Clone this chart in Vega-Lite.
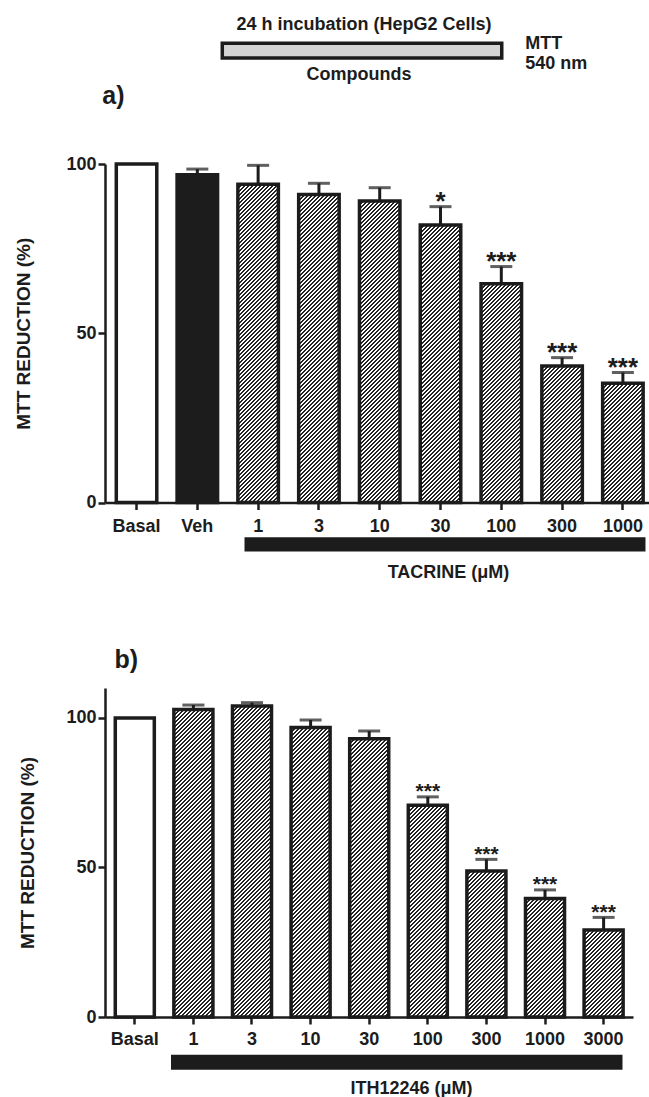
{
"$schema":"https://vega.github.io/schema/vega-lite/v6.json",
"background":"white",
"padding":{"left":14,"top":16,"right":0,"bottom":0},
"spacing":65,
"config":{
 "view":{"stroke":null},
 "axis":{"labelFont":"Liberation Sans","labelFontWeight":"bold","labelFontSize":18,"labelColor":"#1c1c1c","titleFont":"Liberation Sans","titleFontWeight":"bold","titleFontSize":19,"titleColor":"#1c1c1c","domainColor":"#1c1c1c","domainWidth":2.5,"tickColor":"#1c1c1c","tickWidth":2.5,"tickSize":7,"grid":false,"labelOverlap":false}
},
"datasets":{
 "tacrine":[
  {"cat":"Basal","kind":"basal","mean":100,"hi":null,"sig":""},
  {"cat":"Veh","kind":"vehicle","mean":96.8,"hi":98.5,"sig":""},
  {"cat":"1","kind":"drug","mean":94.0,"hi":99.6,"sig":""},
  {"cat":"3","kind":"drug","mean":91.0,"hi":94.3,"sig":""},
  {"cat":"10","kind":"drug","mean":89.1,"hi":93.0,"sig":""},
  {"cat":"30","kind":"drug","mean":82.0,"hi":87.4,"sig":"*"},
  {"cat":"100","kind":"drug","mean":64.6,"hi":69.7,"sig":"***"},
  {"cat":"300","kind":"drug","mean":40.3,"hi":42.8,"sig":"***"},
  {"cat":"1000","kind":"drug","mean":35.2,"hi":38.4,"sig":"***"}
 ],
 "ith":[
  {"cat":"Basal","kind":"basal","mean":100,"hi":null,"sig":""},
  {"cat":"1","kind":"drug","mean":102.8,"hi":104.3,"sig":""},
  {"cat":"3","kind":"drug","mean":104.0,"hi":105.1,"sig":""},
  {"cat":"10","kind":"drug","mean":96.8,"hi":99.3,"sig":""},
  {"cat":"30","kind":"drug","mean":93.0,"hi":95.6,"sig":""},
  {"cat":"100","kind":"drug","mean":70.8,"hi":73.6,"sig":"***"},
  {"cat":"300","kind":"drug","mean":48.8,"hi":52.7,"sig":"***"},
  {"cat":"1000","kind":"drug","mean":39.6,"hi":42.5,"sig":"***"},
  {"cat":"3000","kind":"drug","mean":29.1,"hi":33.3,"sig":"***"}
 ],
 "notesA":[
  {"role":"incubation","u":1.942,"u2":6.570,"v":135.67,"v2":131.30},
  {"role":"heading","text":"24 h incubation (HepG2 Cells)","u":4.289,"v":139.44},
  {"role":"heading","text":"Compounds","u":4.206,"v":124.67},
  {"role":"readout","text":"MTT","u":6.96,"v":134.03},
  {"role":"readout","text":"540 nm","u":6.96,"v":127.92},
  {"role":"panel","text":"a)","u":-0.046,"v":117.87},
  {"role":"treatment","u":2.310,"u2":8.950,"v":-10.25,"v2":-14.48},
  {"role":"heading","text":"TACRINE (μM)","u":5.688,"v":-22.16}
 ],
 "notesB":[
  {"role":"panel","text":"b)","u":0.16,"v":116.85},
  {"role":"treatment","u":1.125,"u2":8.821,"v":-12.64,"v2":-17.65},
  {"role":"heading","text":"ITH12246 (μM)","u":5.224,"v":-25.91}
 ]
},
"vconcat":[
 {
  "width":543.5,"height":338.5,
  "resolve":{"scale":{"x":"independent"},"axis":{"x":"independent"}},
  "layer":[
   {"data":{"name":"tacrine"},"transform":[{"filter":"datum.kind == 'drug'"}],
    "mark":{"type":"rect","fill":{"gradient":"linear","x1":0,"y1":0,"x2":0.13935,"y2":1.16502,"stops":[
{"offset":0,"color":"#222"},{"offset":0.005,"color":"#222"},{"offset":0.005,"color":"#fff"},{"offset":0.01,"color":"#fff"},
{"offset":0.01,"color":"#222"},{"offset":0.015,"color":"#222"},{"offset":0.015,"color":"#fff"},{"offset":0.02,"color":"#fff"},
{"offset":0.02,"color":"#222"},{"offset":0.025,"color":"#222"},{"offset":0.025,"color":"#fff"},{"offset":0.03,"color":"#fff"},
{"offset":0.03,"color":"#222"},{"offset":0.035,"color":"#222"},{"offset":0.035,"color":"#fff"},{"offset":0.04,"color":"#fff"},
{"offset":0.04,"color":"#222"},{"offset":0.045,"color":"#222"},{"offset":0.045,"color":"#fff"},{"offset":0.05,"color":"#fff"},
{"offset":0.05,"color":"#222"},{"offset":0.055,"color":"#222"},{"offset":0.055,"color":"#fff"},{"offset":0.06,"color":"#fff"},
{"offset":0.06,"color":"#222"},{"offset":0.065,"color":"#222"},{"offset":0.065,"color":"#fff"},{"offset":0.07,"color":"#fff"},
{"offset":0.07,"color":"#222"},{"offset":0.075,"color":"#222"},{"offset":0.075,"color":"#fff"},{"offset":0.08,"color":"#fff"},
{"offset":0.08,"color":"#222"},{"offset":0.085,"color":"#222"},{"offset":0.085,"color":"#fff"},{"offset":0.09,"color":"#fff"},
{"offset":0.09,"color":"#222"},{"offset":0.095,"color":"#222"},{"offset":0.095,"color":"#fff"},{"offset":0.1,"color":"#fff"},
{"offset":0.1,"color":"#222"},{"offset":0.105,"color":"#222"},{"offset":0.105,"color":"#fff"},{"offset":0.11,"color":"#fff"},
{"offset":0.11,"color":"#222"},{"offset":0.115,"color":"#222"},{"offset":0.115,"color":"#fff"},{"offset":0.12,"color":"#fff"},
{"offset":0.12,"color":"#222"},{"offset":0.125,"color":"#222"},{"offset":0.125,"color":"#fff"},{"offset":0.13,"color":"#fff"},
{"offset":0.13,"color":"#222"},{"offset":0.135,"color":"#222"},{"offset":0.135,"color":"#fff"},{"offset":0.14,"color":"#fff"},
{"offset":0.14,"color":"#222"},{"offset":0.145,"color":"#222"},{"offset":0.145,"color":"#fff"},{"offset":0.15,"color":"#fff"},
{"offset":0.15,"color":"#222"},{"offset":0.155,"color":"#222"},{"offset":0.155,"color":"#fff"},{"offset":0.16,"color":"#fff"},
{"offset":0.16,"color":"#222"},{"offset":0.165,"color":"#222"},{"offset":0.165,"color":"#fff"},{"offset":0.17,"color":"#fff"},
{"offset":0.17,"color":"#222"},{"offset":0.175,"color":"#222"},{"offset":0.175,"color":"#fff"},{"offset":0.18,"color":"#fff"},
{"offset":0.18,"color":"#222"},{"offset":0.185,"color":"#222"},{"offset":0.185,"color":"#fff"},{"offset":0.19,"color":"#fff"},
{"offset":0.19,"color":"#222"},{"offset":0.195,"color":"#222"},{"offset":0.195,"color":"#fff"},{"offset":0.2,"color":"#fff"},
{"offset":0.2,"color":"#222"},{"offset":0.205,"color":"#222"},{"offset":0.205,"color":"#fff"},{"offset":0.21,"color":"#fff"},
{"offset":0.21,"color":"#222"},{"offset":0.215,"color":"#222"},{"offset":0.215,"color":"#fff"},{"offset":0.22,"color":"#fff"},
{"offset":0.22,"color":"#222"},{"offset":0.225,"color":"#222"},{"offset":0.225,"color":"#fff"},{"offset":0.23,"color":"#fff"},
{"offset":0.23,"color":"#222"},{"offset":0.235,"color":"#222"},{"offset":0.235,"color":"#fff"},{"offset":0.24,"color":"#fff"},
{"offset":0.24,"color":"#222"},{"offset":0.245,"color":"#222"},{"offset":0.245,"color":"#fff"},{"offset":0.25,"color":"#fff"},
{"offset":0.25,"color":"#222"},{"offset":0.255,"color":"#222"},{"offset":0.255,"color":"#fff"},{"offset":0.26,"color":"#fff"},
{"offset":0.26,"color":"#222"},{"offset":0.265,"color":"#222"},{"offset":0.265,"color":"#fff"},{"offset":0.27,"color":"#fff"},
{"offset":0.27,"color":"#222"},{"offset":0.275,"color":"#222"},{"offset":0.275,"color":"#fff"},{"offset":0.28,"color":"#fff"},
{"offset":0.28,"color":"#222"},{"offset":0.285,"color":"#222"},{"offset":0.285,"color":"#fff"},{"offset":0.29,"color":"#fff"},
{"offset":0.29,"color":"#222"},{"offset":0.295,"color":"#222"},{"offset":0.295,"color":"#fff"},{"offset":0.3,"color":"#fff"},
{"offset":0.3,"color":"#222"},{"offset":0.305,"color":"#222"},{"offset":0.305,"color":"#fff"},{"offset":0.31,"color":"#fff"},
{"offset":0.31,"color":"#222"},{"offset":0.315,"color":"#222"},{"offset":0.315,"color":"#fff"},{"offset":0.32,"color":"#fff"},
{"offset":0.32,"color":"#222"},{"offset":0.325,"color":"#222"},{"offset":0.325,"color":"#fff"},{"offset":0.33,"color":"#fff"},
{"offset":0.33,"color":"#222"},{"offset":0.335,"color":"#222"},{"offset":0.335,"color":"#fff"},{"offset":0.34,"color":"#fff"},
{"offset":0.34,"color":"#222"},{"offset":0.345,"color":"#222"},{"offset":0.345,"color":"#fff"},{"offset":0.35,"color":"#fff"},
{"offset":0.35,"color":"#222"},{"offset":0.355,"color":"#222"},{"offset":0.355,"color":"#fff"},{"offset":0.36,"color":"#fff"},
{"offset":0.36,"color":"#222"},{"offset":0.365,"color":"#222"},{"offset":0.365,"color":"#fff"},{"offset":0.37,"color":"#fff"},
{"offset":0.37,"color":"#222"},{"offset":0.375,"color":"#222"},{"offset":0.375,"color":"#fff"},{"offset":0.38,"color":"#fff"},
{"offset":0.38,"color":"#222"},{"offset":0.385,"color":"#222"},{"offset":0.385,"color":"#fff"},{"offset":0.39,"color":"#fff"},
{"offset":0.39,"color":"#222"},{"offset":0.395,"color":"#222"},{"offset":0.395,"color":"#fff"},{"offset":0.4,"color":"#fff"},
{"offset":0.4,"color":"#222"},{"offset":0.405,"color":"#222"},{"offset":0.405,"color":"#fff"},{"offset":0.41,"color":"#fff"},
{"offset":0.41,"color":"#222"},{"offset":0.415,"color":"#222"},{"offset":0.415,"color":"#fff"},{"offset":0.42,"color":"#fff"},
{"offset":0.42,"color":"#222"},{"offset":0.425,"color":"#222"},{"offset":0.425,"color":"#fff"},{"offset":0.43,"color":"#fff"},
{"offset":0.43,"color":"#222"},{"offset":0.435,"color":"#222"},{"offset":0.435,"color":"#fff"},{"offset":0.44,"color":"#fff"},
{"offset":0.44,"color":"#222"},{"offset":0.445,"color":"#222"},{"offset":0.445,"color":"#fff"},{"offset":0.45,"color":"#fff"},
{"offset":0.45,"color":"#222"},{"offset":0.455,"color":"#222"},{"offset":0.455,"color":"#fff"},{"offset":0.46,"color":"#fff"},
{"offset":0.46,"color":"#222"},{"offset":0.465,"color":"#222"},{"offset":0.465,"color":"#fff"},{"offset":0.47,"color":"#fff"},
{"offset":0.47,"color":"#222"},{"offset":0.475,"color":"#222"},{"offset":0.475,"color":"#fff"},{"offset":0.48,"color":"#fff"},
{"offset":0.48,"color":"#222"},{"offset":0.485,"color":"#222"},{"offset":0.485,"color":"#fff"},{"offset":0.49,"color":"#fff"},
{"offset":0.49,"color":"#222"},{"offset":0.495,"color":"#222"},{"offset":0.495,"color":"#fff"},{"offset":0.5,"color":"#fff"},
{"offset":0.5,"color":"#222"},{"offset":0.505,"color":"#222"},{"offset":0.505,"color":"#fff"},{"offset":0.51,"color":"#fff"},
{"offset":0.51,"color":"#222"},{"offset":0.515,"color":"#222"},{"offset":0.515,"color":"#fff"},{"offset":0.52,"color":"#fff"},
{"offset":0.52,"color":"#222"},{"offset":0.525,"color":"#222"},{"offset":0.525,"color":"#fff"},{"offset":0.53,"color":"#fff"},
{"offset":0.53,"color":"#222"},{"offset":0.535,"color":"#222"},{"offset":0.535,"color":"#fff"},{"offset":0.54,"color":"#fff"},
{"offset":0.54,"color":"#222"},{"offset":0.545,"color":"#222"},{"offset":0.545,"color":"#fff"},{"offset":0.55,"color":"#fff"},
{"offset":0.55,"color":"#222"},{"offset":0.555,"color":"#222"},{"offset":0.555,"color":"#fff"},{"offset":0.56,"color":"#fff"},
{"offset":0.56,"color":"#222"},{"offset":0.565,"color":"#222"},{"offset":0.565,"color":"#fff"},{"offset":0.57,"color":"#fff"},
{"offset":0.57,"color":"#222"},{"offset":0.575,"color":"#222"},{"offset":0.575,"color":"#fff"},{"offset":0.58,"color":"#fff"},
{"offset":0.58,"color":"#222"},{"offset":0.585,"color":"#222"},{"offset":0.585,"color":"#fff"},{"offset":0.59,"color":"#fff"},
{"offset":0.59,"color":"#222"},{"offset":0.595,"color":"#222"},{"offset":0.595,"color":"#fff"},{"offset":0.6,"color":"#fff"},
{"offset":0.6,"color":"#222"},{"offset":0.605,"color":"#222"},{"offset":0.605,"color":"#fff"},{"offset":0.61,"color":"#fff"},
{"offset":0.61,"color":"#222"},{"offset":0.615,"color":"#222"},{"offset":0.615,"color":"#fff"},{"offset":0.62,"color":"#fff"},
{"offset":0.62,"color":"#222"},{"offset":0.625,"color":"#222"},{"offset":0.625,"color":"#fff"},{"offset":0.63,"color":"#fff"},
{"offset":0.63,"color":"#222"},{"offset":0.635,"color":"#222"},{"offset":0.635,"color":"#fff"},{"offset":0.64,"color":"#fff"},
{"offset":0.64,"color":"#222"},{"offset":0.645,"color":"#222"},{"offset":0.645,"color":"#fff"},{"offset":0.65,"color":"#fff"},
{"offset":0.65,"color":"#222"},{"offset":0.655,"color":"#222"},{"offset":0.655,"color":"#fff"},{"offset":0.66,"color":"#fff"},
{"offset":0.66,"color":"#222"},{"offset":0.665,"color":"#222"},{"offset":0.665,"color":"#fff"},{"offset":0.67,"color":"#fff"},
{"offset":0.67,"color":"#222"},{"offset":0.675,"color":"#222"},{"offset":0.675,"color":"#fff"},{"offset":0.68,"color":"#fff"},
{"offset":0.68,"color":"#222"},{"offset":0.685,"color":"#222"},{"offset":0.685,"color":"#fff"},{"offset":0.69,"color":"#fff"},
{"offset":0.69,"color":"#222"},{"offset":0.695,"color":"#222"},{"offset":0.695,"color":"#fff"},{"offset":0.7,"color":"#fff"},
{"offset":0.7,"color":"#222"},{"offset":0.705,"color":"#222"},{"offset":0.705,"color":"#fff"},{"offset":0.71,"color":"#fff"},
{"offset":0.71,"color":"#222"},{"offset":0.715,"color":"#222"},{"offset":0.715,"color":"#fff"},{"offset":0.72,"color":"#fff"},
{"offset":0.72,"color":"#222"},{"offset":0.725,"color":"#222"},{"offset":0.725,"color":"#fff"},{"offset":0.73,"color":"#fff"},
{"offset":0.73,"color":"#222"},{"offset":0.735,"color":"#222"},{"offset":0.735,"color":"#fff"},{"offset":0.74,"color":"#fff"},
{"offset":0.74,"color":"#222"},{"offset":0.745,"color":"#222"},{"offset":0.745,"color":"#fff"},{"offset":0.75,"color":"#fff"},
{"offset":0.75,"color":"#222"},{"offset":0.755,"color":"#222"},{"offset":0.755,"color":"#fff"},{"offset":0.76,"color":"#fff"},
{"offset":0.76,"color":"#222"},{"offset":0.765,"color":"#222"},{"offset":0.765,"color":"#fff"},{"offset":0.77,"color":"#fff"},
{"offset":0.77,"color":"#222"},{"offset":0.775,"color":"#222"},{"offset":0.775,"color":"#fff"},{"offset":0.78,"color":"#fff"},
{"offset":0.78,"color":"#222"},{"offset":0.785,"color":"#222"},{"offset":0.785,"color":"#fff"},{"offset":0.79,"color":"#fff"},
{"offset":0.79,"color":"#222"},{"offset":0.795,"color":"#222"},{"offset":0.795,"color":"#fff"},{"offset":0.8,"color":"#fff"},
{"offset":0.8,"color":"#222"},{"offset":0.805,"color":"#222"},{"offset":0.805,"color":"#fff"},{"offset":0.81,"color":"#fff"},
{"offset":0.81,"color":"#222"},{"offset":0.815,"color":"#222"},{"offset":0.815,"color":"#fff"},{"offset":0.82,"color":"#fff"},
{"offset":0.82,"color":"#222"},{"offset":0.825,"color":"#222"},{"offset":0.825,"color":"#fff"},{"offset":0.83,"color":"#fff"},
{"offset":0.83,"color":"#222"},{"offset":0.835,"color":"#222"},{"offset":0.835,"color":"#fff"},{"offset":0.84,"color":"#fff"},
{"offset":0.84,"color":"#222"},{"offset":0.845,"color":"#222"},{"offset":0.845,"color":"#fff"},{"offset":0.85,"color":"#fff"},
{"offset":0.85,"color":"#222"},{"offset":0.855,"color":"#222"},{"offset":0.855,"color":"#fff"},{"offset":0.86,"color":"#fff"},
{"offset":0.86,"color":"#222"},{"offset":0.865,"color":"#222"},{"offset":0.865,"color":"#fff"},{"offset":0.87,"color":"#fff"},
{"offset":0.87,"color":"#222"},{"offset":0.875,"color":"#222"},{"offset":0.875,"color":"#fff"},{"offset":0.88,"color":"#fff"},
{"offset":0.88,"color":"#222"},{"offset":0.885,"color":"#222"},{"offset":0.885,"color":"#fff"},{"offset":0.89,"color":"#fff"},
{"offset":0.89,"color":"#222"},{"offset":0.895,"color":"#222"},{"offset":0.895,"color":"#fff"},{"offset":0.9,"color":"#fff"},
{"offset":0.9,"color":"#222"},{"offset":0.905,"color":"#222"},{"offset":0.905,"color":"#fff"},{"offset":0.91,"color":"#fff"},
{"offset":0.91,"color":"#222"},{"offset":0.915,"color":"#222"},{"offset":0.915,"color":"#fff"},{"offset":0.92,"color":"#fff"},
{"offset":0.92,"color":"#222"},{"offset":0.925,"color":"#222"},{"offset":0.925,"color":"#fff"},{"offset":0.93,"color":"#fff"},
{"offset":0.93,"color":"#222"},{"offset":0.935,"color":"#222"},{"offset":0.935,"color":"#fff"},{"offset":0.94,"color":"#fff"},
{"offset":0.94,"color":"#222"},{"offset":0.945,"color":"#222"},{"offset":0.945,"color":"#fff"},{"offset":0.95,"color":"#fff"},
{"offset":0.95,"color":"#222"},{"offset":0.955,"color":"#222"},{"offset":0.955,"color":"#fff"},{"offset":0.96,"color":"#fff"},
{"offset":0.96,"color":"#222"},{"offset":0.965,"color":"#222"},{"offset":0.965,"color":"#fff"},{"offset":0.97,"color":"#fff"},
{"offset":0.97,"color":"#222"},{"offset":0.975,"color":"#222"},{"offset":0.975,"color":"#fff"},{"offset":0.98,"color":"#fff"},
{"offset":0.98,"color":"#222"},{"offset":0.985,"color":"#222"},{"offset":0.985,"color":"#fff"},{"offset":0.99,"color":"#fff"},
{"offset":0.99,"color":"#222"},{"offset":0.995,"color":"#222"},{"offset":0.995,"color":"#fff"},{"offset":1,"color":"#fff"}
]}},
    "encoding":{
     "x":{"field":"cat","type":"nominal","scale":{"type":"band","domain":["Basal","Veh","1","3","10","30","100","300","1000"],"paddingInner":0.334,"paddingOuter":0.137,"align":0.678},"axis":null},
     "y":{"datum":0,"type":"quantitative","scale":{"domain":[0,100],"nice":false}},
     "y2":{"datum":100}}},
   {"data":{"name":"tacrine"},"transform":[{"filter":"datum.kind == 'drug'"}],
    "mark":{"type":"rect","fill":"#ffffff","stroke":"#ffffff","strokeWidth":2},
    "encoding":{
     "x":{"field":"cat","type":"nominal","scale":{"type":"band","domain":["Basal","Veh","1","3","10","30","100","300","1000"],"paddingInner":0.334,"paddingOuter":0.137,"align":0.678},"axis":null},
     "y":{"field":"mean","type":"quantitative","scale":{"domain":[0,100],"nice":false}},
     "y2":{"datum":100}}},
   {"data":{"name":"tacrine"},
    "mark":{"type":"bar","stroke":"#1c1c1c","strokeWidth":3.5},
    "encoding":{
     "x":{"field":"cat","type":"nominal","scale":{"type":"band","domain":["Basal","Veh","1","3","10","30","100","300","1000"],"paddingInner":0.334,"paddingOuter":0.137,"align":0.678},"axis":{"title":null,"labelAngle":0,"labelPadding":8}},
     "y":{"field":"mean","type":"quantitative","stack":null,"scale":{"domain":[0,100],"nice":false},"axis":{"values":[0,50,100],"title":"MTT REDUCTION (%)","titlePadding":31.5,"minExtent":40,"maxExtent":40,"labelPadding":2}},
     "fill":{"field":"kind","type":"nominal","scale":{"domain":["basal","vehicle","drug"],"range":["#ffffff","#1c1c1c","transparent"]},"legend":null}}},
   {"data":{"name":"tacrine"},"transform":[{"filter":"datum.hi != null"}],
    "mark":{"type":"rule","color":"#1c1c1c","strokeWidth":3},
    "encoding":{
     "x":{"field":"cat","type":"nominal","scale":{"type":"band","domain":["Basal","Veh","1","3","10","30","100","300","1000"],"paddingInner":0.334,"paddingOuter":0.137,"align":0.678},"axis":null},
     "y":{"field":"mean","type":"quantitative","scale":{"domain":[0,100],"nice":false}},
     "y2":{"field":"hi"}}},
   {"data":{"name":"tacrine"},"transform":[{"filter":"datum.hi != null"}],
    "mark":{"type":"tick","color":"#1c1c1c","size":22,"thickness":3},
    "encoding":{
     "x":{"field":"cat","type":"nominal","scale":{"type":"band","domain":["Basal","Veh","1","3","10","30","100","300","1000"],"paddingInner":0.334,"paddingOuter":0.137,"align":0.678},"axis":null},
     "y":{"field":"hi","type":"quantitative","scale":{"domain":[0,100],"nice":false}}}},
   {"data":{"name":"tacrine"},"transform":[{"filter":"datum.sig != ''"}],
    "mark":{"type":"text","font":"Liberation Sans","fontWeight":"bold","fontSize":26,"color":"#1c1c1c","dy":3,"baseline":"alphabetic","align":"center"},
    "encoding":{
     "x":{"field":"cat","type":"nominal","scale":{"type":"band","domain":["Basal","Veh","1","3","10","30","100","300","1000"],"paddingInner":0.334,"paddingOuter":0.137,"align":0.678},"axis":null},
     "y":{"field":"hi","type":"quantitative","scale":{"domain":[0,100],"nice":false}},
     "text":{"field":"sig"}}},
   {"data":{"name":"notesA"},"transform":[{"filter":"datum.role == 'incubation'"}],
    "mark":{"type":"rect","fill":"#d4d4d4","stroke":"#1c1c1c","strokeWidth":3.5},
    "encoding":{
     "x":{"field":"u","type":"quantitative","scale":{"domain":[0,9],"nice":false,"zero":false},"axis":null},
     "x2":{"field":"u2"},
     "y":{"field":"v","type":"quantitative","scale":{"domain":[0,100],"nice":false}},
     "y2":{"field":"v2"}}},
   {"data":{"name":"notesA"},"transform":[{"filter":"datum.role == 'treatment'"}],
    "mark":{"type":"rect","fill":"#1c1c1c"},
    "encoding":{
     "x":{"field":"u","type":"quantitative","scale":{"domain":[0,9],"nice":false,"zero":false},"axis":null},
     "x2":{"field":"u2"},
     "y":{"field":"v","type":"quantitative","scale":{"domain":[0,100],"nice":false}},
     "y2":{"field":"v2"}}},
   {"data":{"name":"notesA"},"transform":[{"filter":"datum.role == 'heading'"}],
    "mark":{"type":"text","font":"Liberation Sans","fontWeight":"bold","fontSize":18,"color":"#1c1c1c","baseline":"alphabetic","align":"center"},
    "encoding":{
     "x":{"field":"u","type":"quantitative","scale":{"domain":[0,9],"nice":false,"zero":false},"axis":null},
     "y":{"field":"v","type":"quantitative","scale":{"domain":[0,100],"nice":false}},
     "text":{"field":"text"}}},
   {"data":{"name":"notesA"},"transform":[{"filter":"datum.role == 'readout'"}],
    "mark":{"type":"text","font":"Liberation Sans","fontWeight":"bold","fontSize":18,"color":"#1c1c1c","baseline":"alphabetic","align":"left"},
    "encoding":{
     "x":{"field":"u","type":"quantitative","scale":{"domain":[0,9],"nice":false,"zero":false},"axis":null},
     "y":{"field":"v","type":"quantitative","scale":{"domain":[0,100],"nice":false}},
     "text":{"field":"text"}}},
   {"data":{"name":"notesA"},"transform":[{"filter":"datum.role == 'panel'"}],
    "mark":{"type":"text","font":"Liberation Sans","fontWeight":"bold","fontSize":25,"color":"#1c1c1c","baseline":"alphabetic","align":"left"},
    "encoding":{
     "x":{"field":"u","type":"quantitative","scale":{"domain":[0,9],"nice":false,"zero":false},"axis":null},
     "y":{"field":"v","type":"quantitative","scale":{"domain":[0,100],"nice":false}},
     "text":{"field":"text"}}}
  ]
 },
 {
  "width":528,"height":329,
  "resolve":{"scale":{"x":"independent"},"axis":{"x":"independent"}},
  "layer":[
   {"data":{"name":"ith"},"transform":[{"filter":"datum.kind == 'drug'"}],
    "mark":{"type":"rect","fill":{"gradient":"linear","x1":0,"y1":0,"x2":0.14481,"y2":1.20962,"stops":[
{"offset":0,"color":"#222"},{"offset":0.005,"color":"#222"},{"offset":0.005,"color":"#fff"},{"offset":0.01,"color":"#fff"},
{"offset":0.01,"color":"#222"},{"offset":0.015,"color":"#222"},{"offset":0.015,"color":"#fff"},{"offset":0.02,"color":"#fff"},
{"offset":0.02,"color":"#222"},{"offset":0.025,"color":"#222"},{"offset":0.025,"color":"#fff"},{"offset":0.03,"color":"#fff"},
{"offset":0.03,"color":"#222"},{"offset":0.035,"color":"#222"},{"offset":0.035,"color":"#fff"},{"offset":0.04,"color":"#fff"},
{"offset":0.04,"color":"#222"},{"offset":0.045,"color":"#222"},{"offset":0.045,"color":"#fff"},{"offset":0.05,"color":"#fff"},
{"offset":0.05,"color":"#222"},{"offset":0.055,"color":"#222"},{"offset":0.055,"color":"#fff"},{"offset":0.06,"color":"#fff"},
{"offset":0.06,"color":"#222"},{"offset":0.065,"color":"#222"},{"offset":0.065,"color":"#fff"},{"offset":0.07,"color":"#fff"},
{"offset":0.07,"color":"#222"},{"offset":0.075,"color":"#222"},{"offset":0.075,"color":"#fff"},{"offset":0.08,"color":"#fff"},
{"offset":0.08,"color":"#222"},{"offset":0.085,"color":"#222"},{"offset":0.085,"color":"#fff"},{"offset":0.09,"color":"#fff"},
{"offset":0.09,"color":"#222"},{"offset":0.095,"color":"#222"},{"offset":0.095,"color":"#fff"},{"offset":0.1,"color":"#fff"},
{"offset":0.1,"color":"#222"},{"offset":0.105,"color":"#222"},{"offset":0.105,"color":"#fff"},{"offset":0.11,"color":"#fff"},
{"offset":0.11,"color":"#222"},{"offset":0.115,"color":"#222"},{"offset":0.115,"color":"#fff"},{"offset":0.12,"color":"#fff"},
{"offset":0.12,"color":"#222"},{"offset":0.125,"color":"#222"},{"offset":0.125,"color":"#fff"},{"offset":0.13,"color":"#fff"},
{"offset":0.13,"color":"#222"},{"offset":0.135,"color":"#222"},{"offset":0.135,"color":"#fff"},{"offset":0.14,"color":"#fff"},
{"offset":0.14,"color":"#222"},{"offset":0.145,"color":"#222"},{"offset":0.145,"color":"#fff"},{"offset":0.15,"color":"#fff"},
{"offset":0.15,"color":"#222"},{"offset":0.155,"color":"#222"},{"offset":0.155,"color":"#fff"},{"offset":0.16,"color":"#fff"},
{"offset":0.16,"color":"#222"},{"offset":0.165,"color":"#222"},{"offset":0.165,"color":"#fff"},{"offset":0.17,"color":"#fff"},
{"offset":0.17,"color":"#222"},{"offset":0.175,"color":"#222"},{"offset":0.175,"color":"#fff"},{"offset":0.18,"color":"#fff"},
{"offset":0.18,"color":"#222"},{"offset":0.185,"color":"#222"},{"offset":0.185,"color":"#fff"},{"offset":0.19,"color":"#fff"},
{"offset":0.19,"color":"#222"},{"offset":0.195,"color":"#222"},{"offset":0.195,"color":"#fff"},{"offset":0.2,"color":"#fff"},
{"offset":0.2,"color":"#222"},{"offset":0.205,"color":"#222"},{"offset":0.205,"color":"#fff"},{"offset":0.21,"color":"#fff"},
{"offset":0.21,"color":"#222"},{"offset":0.215,"color":"#222"},{"offset":0.215,"color":"#fff"},{"offset":0.22,"color":"#fff"},
{"offset":0.22,"color":"#222"},{"offset":0.225,"color":"#222"},{"offset":0.225,"color":"#fff"},{"offset":0.23,"color":"#fff"},
{"offset":0.23,"color":"#222"},{"offset":0.235,"color":"#222"},{"offset":0.235,"color":"#fff"},{"offset":0.24,"color":"#fff"},
{"offset":0.24,"color":"#222"},{"offset":0.245,"color":"#222"},{"offset":0.245,"color":"#fff"},{"offset":0.25,"color":"#fff"},
{"offset":0.25,"color":"#222"},{"offset":0.255,"color":"#222"},{"offset":0.255,"color":"#fff"},{"offset":0.26,"color":"#fff"},
{"offset":0.26,"color":"#222"},{"offset":0.265,"color":"#222"},{"offset":0.265,"color":"#fff"},{"offset":0.27,"color":"#fff"},
{"offset":0.27,"color":"#222"},{"offset":0.275,"color":"#222"},{"offset":0.275,"color":"#fff"},{"offset":0.28,"color":"#fff"},
{"offset":0.28,"color":"#222"},{"offset":0.285,"color":"#222"},{"offset":0.285,"color":"#fff"},{"offset":0.29,"color":"#fff"},
{"offset":0.29,"color":"#222"},{"offset":0.295,"color":"#222"},{"offset":0.295,"color":"#fff"},{"offset":0.3,"color":"#fff"},
{"offset":0.3,"color":"#222"},{"offset":0.305,"color":"#222"},{"offset":0.305,"color":"#fff"},{"offset":0.31,"color":"#fff"},
{"offset":0.31,"color":"#222"},{"offset":0.315,"color":"#222"},{"offset":0.315,"color":"#fff"},{"offset":0.32,"color":"#fff"},
{"offset":0.32,"color":"#222"},{"offset":0.325,"color":"#222"},{"offset":0.325,"color":"#fff"},{"offset":0.33,"color":"#fff"},
{"offset":0.33,"color":"#222"},{"offset":0.335,"color":"#222"},{"offset":0.335,"color":"#fff"},{"offset":0.34,"color":"#fff"},
{"offset":0.34,"color":"#222"},{"offset":0.345,"color":"#222"},{"offset":0.345,"color":"#fff"},{"offset":0.35,"color":"#fff"},
{"offset":0.35,"color":"#222"},{"offset":0.355,"color":"#222"},{"offset":0.355,"color":"#fff"},{"offset":0.36,"color":"#fff"},
{"offset":0.36,"color":"#222"},{"offset":0.365,"color":"#222"},{"offset":0.365,"color":"#fff"},{"offset":0.37,"color":"#fff"},
{"offset":0.37,"color":"#222"},{"offset":0.375,"color":"#222"},{"offset":0.375,"color":"#fff"},{"offset":0.38,"color":"#fff"},
{"offset":0.38,"color":"#222"},{"offset":0.385,"color":"#222"},{"offset":0.385,"color":"#fff"},{"offset":0.39,"color":"#fff"},
{"offset":0.39,"color":"#222"},{"offset":0.395,"color":"#222"},{"offset":0.395,"color":"#fff"},{"offset":0.4,"color":"#fff"},
{"offset":0.4,"color":"#222"},{"offset":0.405,"color":"#222"},{"offset":0.405,"color":"#fff"},{"offset":0.41,"color":"#fff"},
{"offset":0.41,"color":"#222"},{"offset":0.415,"color":"#222"},{"offset":0.415,"color":"#fff"},{"offset":0.42,"color":"#fff"},
{"offset":0.42,"color":"#222"},{"offset":0.425,"color":"#222"},{"offset":0.425,"color":"#fff"},{"offset":0.43,"color":"#fff"},
{"offset":0.43,"color":"#222"},{"offset":0.435,"color":"#222"},{"offset":0.435,"color":"#fff"},{"offset":0.44,"color":"#fff"},
{"offset":0.44,"color":"#222"},{"offset":0.445,"color":"#222"},{"offset":0.445,"color":"#fff"},{"offset":0.45,"color":"#fff"},
{"offset":0.45,"color":"#222"},{"offset":0.455,"color":"#222"},{"offset":0.455,"color":"#fff"},{"offset":0.46,"color":"#fff"},
{"offset":0.46,"color":"#222"},{"offset":0.465,"color":"#222"},{"offset":0.465,"color":"#fff"},{"offset":0.47,"color":"#fff"},
{"offset":0.47,"color":"#222"},{"offset":0.475,"color":"#222"},{"offset":0.475,"color":"#fff"},{"offset":0.48,"color":"#fff"},
{"offset":0.48,"color":"#222"},{"offset":0.485,"color":"#222"},{"offset":0.485,"color":"#fff"},{"offset":0.49,"color":"#fff"},
{"offset":0.49,"color":"#222"},{"offset":0.495,"color":"#222"},{"offset":0.495,"color":"#fff"},{"offset":0.5,"color":"#fff"},
{"offset":0.5,"color":"#222"},{"offset":0.505,"color":"#222"},{"offset":0.505,"color":"#fff"},{"offset":0.51,"color":"#fff"},
{"offset":0.51,"color":"#222"},{"offset":0.515,"color":"#222"},{"offset":0.515,"color":"#fff"},{"offset":0.52,"color":"#fff"},
{"offset":0.52,"color":"#222"},{"offset":0.525,"color":"#222"},{"offset":0.525,"color":"#fff"},{"offset":0.53,"color":"#fff"},
{"offset":0.53,"color":"#222"},{"offset":0.535,"color":"#222"},{"offset":0.535,"color":"#fff"},{"offset":0.54,"color":"#fff"},
{"offset":0.54,"color":"#222"},{"offset":0.545,"color":"#222"},{"offset":0.545,"color":"#fff"},{"offset":0.55,"color":"#fff"},
{"offset":0.55,"color":"#222"},{"offset":0.555,"color":"#222"},{"offset":0.555,"color":"#fff"},{"offset":0.56,"color":"#fff"},
{"offset":0.56,"color":"#222"},{"offset":0.565,"color":"#222"},{"offset":0.565,"color":"#fff"},{"offset":0.57,"color":"#fff"},
{"offset":0.57,"color":"#222"},{"offset":0.575,"color":"#222"},{"offset":0.575,"color":"#fff"},{"offset":0.58,"color":"#fff"},
{"offset":0.58,"color":"#222"},{"offset":0.585,"color":"#222"},{"offset":0.585,"color":"#fff"},{"offset":0.59,"color":"#fff"},
{"offset":0.59,"color":"#222"},{"offset":0.595,"color":"#222"},{"offset":0.595,"color":"#fff"},{"offset":0.6,"color":"#fff"},
{"offset":0.6,"color":"#222"},{"offset":0.605,"color":"#222"},{"offset":0.605,"color":"#fff"},{"offset":0.61,"color":"#fff"},
{"offset":0.61,"color":"#222"},{"offset":0.615,"color":"#222"},{"offset":0.615,"color":"#fff"},{"offset":0.62,"color":"#fff"},
{"offset":0.62,"color":"#222"},{"offset":0.625,"color":"#222"},{"offset":0.625,"color":"#fff"},{"offset":0.63,"color":"#fff"},
{"offset":0.63,"color":"#222"},{"offset":0.635,"color":"#222"},{"offset":0.635,"color":"#fff"},{"offset":0.64,"color":"#fff"},
{"offset":0.64,"color":"#222"},{"offset":0.645,"color":"#222"},{"offset":0.645,"color":"#fff"},{"offset":0.65,"color":"#fff"},
{"offset":0.65,"color":"#222"},{"offset":0.655,"color":"#222"},{"offset":0.655,"color":"#fff"},{"offset":0.66,"color":"#fff"},
{"offset":0.66,"color":"#222"},{"offset":0.665,"color":"#222"},{"offset":0.665,"color":"#fff"},{"offset":0.67,"color":"#fff"},
{"offset":0.67,"color":"#222"},{"offset":0.675,"color":"#222"},{"offset":0.675,"color":"#fff"},{"offset":0.68,"color":"#fff"},
{"offset":0.68,"color":"#222"},{"offset":0.685,"color":"#222"},{"offset":0.685,"color":"#fff"},{"offset":0.69,"color":"#fff"},
{"offset":0.69,"color":"#222"},{"offset":0.695,"color":"#222"},{"offset":0.695,"color":"#fff"},{"offset":0.7,"color":"#fff"},
{"offset":0.7,"color":"#222"},{"offset":0.705,"color":"#222"},{"offset":0.705,"color":"#fff"},{"offset":0.71,"color":"#fff"},
{"offset":0.71,"color":"#222"},{"offset":0.715,"color":"#222"},{"offset":0.715,"color":"#fff"},{"offset":0.72,"color":"#fff"},
{"offset":0.72,"color":"#222"},{"offset":0.725,"color":"#222"},{"offset":0.725,"color":"#fff"},{"offset":0.73,"color":"#fff"},
{"offset":0.73,"color":"#222"},{"offset":0.735,"color":"#222"},{"offset":0.735,"color":"#fff"},{"offset":0.74,"color":"#fff"},
{"offset":0.74,"color":"#222"},{"offset":0.745,"color":"#222"},{"offset":0.745,"color":"#fff"},{"offset":0.75,"color":"#fff"},
{"offset":0.75,"color":"#222"},{"offset":0.755,"color":"#222"},{"offset":0.755,"color":"#fff"},{"offset":0.76,"color":"#fff"},
{"offset":0.76,"color":"#222"},{"offset":0.765,"color":"#222"},{"offset":0.765,"color":"#fff"},{"offset":0.77,"color":"#fff"},
{"offset":0.77,"color":"#222"},{"offset":0.775,"color":"#222"},{"offset":0.775,"color":"#fff"},{"offset":0.78,"color":"#fff"},
{"offset":0.78,"color":"#222"},{"offset":0.785,"color":"#222"},{"offset":0.785,"color":"#fff"},{"offset":0.79,"color":"#fff"},
{"offset":0.79,"color":"#222"},{"offset":0.795,"color":"#222"},{"offset":0.795,"color":"#fff"},{"offset":0.8,"color":"#fff"},
{"offset":0.8,"color":"#222"},{"offset":0.805,"color":"#222"},{"offset":0.805,"color":"#fff"},{"offset":0.81,"color":"#fff"},
{"offset":0.81,"color":"#222"},{"offset":0.815,"color":"#222"},{"offset":0.815,"color":"#fff"},{"offset":0.82,"color":"#fff"},
{"offset":0.82,"color":"#222"},{"offset":0.825,"color":"#222"},{"offset":0.825,"color":"#fff"},{"offset":0.83,"color":"#fff"},
{"offset":0.83,"color":"#222"},{"offset":0.835,"color":"#222"},{"offset":0.835,"color":"#fff"},{"offset":0.84,"color":"#fff"},
{"offset":0.84,"color":"#222"},{"offset":0.845,"color":"#222"},{"offset":0.845,"color":"#fff"},{"offset":0.85,"color":"#fff"},
{"offset":0.85,"color":"#222"},{"offset":0.855,"color":"#222"},{"offset":0.855,"color":"#fff"},{"offset":0.86,"color":"#fff"},
{"offset":0.86,"color":"#222"},{"offset":0.865,"color":"#222"},{"offset":0.865,"color":"#fff"},{"offset":0.87,"color":"#fff"},
{"offset":0.87,"color":"#222"},{"offset":0.875,"color":"#222"},{"offset":0.875,"color":"#fff"},{"offset":0.88,"color":"#fff"},
{"offset":0.88,"color":"#222"},{"offset":0.885,"color":"#222"},{"offset":0.885,"color":"#fff"},{"offset":0.89,"color":"#fff"},
{"offset":0.89,"color":"#222"},{"offset":0.895,"color":"#222"},{"offset":0.895,"color":"#fff"},{"offset":0.9,"color":"#fff"},
{"offset":0.9,"color":"#222"},{"offset":0.905,"color":"#222"},{"offset":0.905,"color":"#fff"},{"offset":0.91,"color":"#fff"},
{"offset":0.91,"color":"#222"},{"offset":0.915,"color":"#222"},{"offset":0.915,"color":"#fff"},{"offset":0.92,"color":"#fff"},
{"offset":0.92,"color":"#222"},{"offset":0.925,"color":"#222"},{"offset":0.925,"color":"#fff"},{"offset":0.93,"color":"#fff"},
{"offset":0.93,"color":"#222"},{"offset":0.935,"color":"#222"},{"offset":0.935,"color":"#fff"},{"offset":0.94,"color":"#fff"},
{"offset":0.94,"color":"#222"},{"offset":0.945,"color":"#222"},{"offset":0.945,"color":"#fff"},{"offset":0.95,"color":"#fff"},
{"offset":0.95,"color":"#222"},{"offset":0.955,"color":"#222"},{"offset":0.955,"color":"#fff"},{"offset":0.96,"color":"#fff"},
{"offset":0.96,"color":"#222"},{"offset":0.965,"color":"#222"},{"offset":0.965,"color":"#fff"},{"offset":0.97,"color":"#fff"},
{"offset":0.97,"color":"#222"},{"offset":0.975,"color":"#222"},{"offset":0.975,"color":"#fff"},{"offset":0.98,"color":"#fff"},
{"offset":0.98,"color":"#222"},{"offset":0.985,"color":"#222"},{"offset":0.985,"color":"#fff"},{"offset":0.99,"color":"#fff"},
{"offset":0.99,"color":"#222"},{"offset":0.995,"color":"#222"},{"offset":0.995,"color":"#fff"},{"offset":1,"color":"#fff"}
]}},
    "encoding":{
     "x":{"field":"cat","type":"nominal","scale":{"type":"band","domain":["Basal","1","3","10","30","100","300","1000","3000"],"paddingInner":0.334,"paddingOuter":0.172,"align":0.51},"axis":null},
     "y":{"datum":0,"type":"quantitative","scale":{"domain":[0,110],"nice":false}},
     "y2":{"datum":109}}},
   {"data":{"name":"ith"},"transform":[{"filter":"datum.kind == 'drug'"}],
    "mark":{"type":"rect","fill":"#ffffff","stroke":"#ffffff","strokeWidth":2},
    "encoding":{
     "x":{"field":"cat","type":"nominal","scale":{"type":"band","domain":["Basal","1","3","10","30","100","300","1000","3000"],"paddingInner":0.334,"paddingOuter":0.172,"align":0.51},"axis":null},
     "y":{"field":"mean","type":"quantitative","scale":{"domain":[0,110],"nice":false}},
     "y2":{"datum":109}}},
   {"data":{"name":"ith"},
    "mark":{"type":"bar","stroke":"#1c1c1c","strokeWidth":3.5},
    "encoding":{
     "x":{"field":"cat","type":"nominal","scale":{"type":"band","domain":["Basal","1","3","10","30","100","300","1000","3000"],"paddingInner":0.334,"paddingOuter":0.172,"align":0.51},"axis":{"title":null,"labelAngle":0,"labelPadding":6}},
     "y":{"field":"mean","type":"quantitative","stack":null,"scale":{"domain":[0,110],"nice":false},"axis":{"values":[0,50,100],"title":"MTT REDUCTION (%)","titlePadding":27.5,"minExtent":40,"maxExtent":40,"labelPadding":2}},
     "fill":{"field":"kind","type":"nominal","scale":{"domain":["basal","drug"],"range":["#ffffff","transparent"]},"legend":null}}},
   {"data":{"name":"ith"},"transform":[{"filter":"datum.hi != null"}],
    "mark":{"type":"rule","color":"#1c1c1c","strokeWidth":3},
    "encoding":{
     "x":{"field":"cat","type":"nominal","scale":{"type":"band","domain":["Basal","1","3","10","30","100","300","1000","3000"],"paddingInner":0.334,"paddingOuter":0.172,"align":0.51},"axis":null},
     "y":{"field":"mean","type":"quantitative","scale":{"domain":[0,110],"nice":false}},
     "y2":{"field":"hi"}}},
   {"data":{"name":"ith"},"transform":[{"filter":"datum.hi != null"}],
    "mark":{"type":"tick","color":"#1c1c1c","size":22,"thickness":3},
    "encoding":{
     "x":{"field":"cat","type":"nominal","scale":{"type":"band","domain":["Basal","1","3","10","30","100","300","1000","3000"],"paddingInner":0.334,"paddingOuter":0.172,"align":0.51},"axis":null},
     "y":{"field":"hi","type":"quantitative","scale":{"domain":[0,110],"nice":false}}}},
   {"data":{"name":"ith"},"transform":[{"filter":"datum.sig != ''"}],
    "mark":{"type":"text","font":"Liberation Sans","fontWeight":"bold","fontSize":21,"color":"#1c1c1c","dy":1.5,"baseline":"alphabetic","align":"center"},
    "encoding":{
     "x":{"field":"cat","type":"nominal","scale":{"type":"band","domain":["Basal","1","3","10","30","100","300","1000","3000"],"paddingInner":0.334,"paddingOuter":0.172,"align":0.51},"axis":null},
     "y":{"field":"hi","type":"quantitative","scale":{"domain":[0,110],"nice":false}},
     "text":{"field":"sig"}}},
   {"data":{"name":"notesB"},"transform":[{"filter":"datum.role == 'treatment'"}],
    "mark":{"type":"rect","fill":"#1c1c1c"},
    "encoding":{
     "x":{"field":"u","type":"quantitative","scale":{"domain":[0,9],"nice":false,"zero":false},"axis":null},
     "x2":{"field":"u2"},
     "y":{"field":"v","type":"quantitative","scale":{"domain":[0,110],"nice":false}},
     "y2":{"field":"v2"}}},
   {"data":{"name":"notesB"},"transform":[{"filter":"datum.role == 'heading'"}],
    "mark":{"type":"text","font":"Liberation Sans","fontWeight":"bold","fontSize":18,"color":"#1c1c1c","baseline":"alphabetic","align":"center"},
    "encoding":{
     "x":{"field":"u","type":"quantitative","scale":{"domain":[0,9],"nice":false,"zero":false},"axis":null},
     "y":{"field":"v","type":"quantitative","scale":{"domain":[0,110],"nice":false}},
     "text":{"field":"text"}}},
   {"data":{"name":"notesB"},"transform":[{"filter":"datum.role == 'panel'"}],
    "mark":{"type":"text","font":"Liberation Sans","fontWeight":"bold","fontSize":25,"color":"#1c1c1c","baseline":"alphabetic","align":"left"},
    "encoding":{
     "x":{"field":"u","type":"quantitative","scale":{"domain":[0,9],"nice":false,"zero":false},"axis":null},
     "y":{"field":"v","type":"quantitative","scale":{"domain":[0,110],"nice":false}},
     "text":{"field":"text"}}}
  ]
 }
]
}
